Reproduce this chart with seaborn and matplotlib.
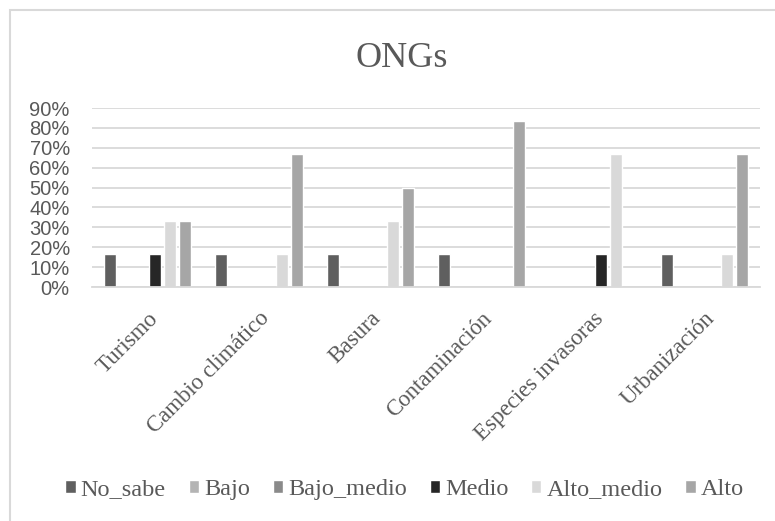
import matplotlib
matplotlib.use("Agg")
import matplotlib.pyplot as plt
import seaborn as sns
import pandas as pd
from matplotlib.patches import Rectangle
from matplotlib.ticker import PercentFormatter, MultipleLocator

categorias = ["Turismo", "Cambio climático", "Basura", "Contaminación",
              "Especies invasoras", "Urbanización"]
niveles = ["No_sabe", "Bajo", "Bajo_medio", "Medio", "Alto_medio", "Alto"]

no_sabe    = [0.1667, 0.1667, 0.1667, 0.1667, 0.0,    0.1667]
bajo       = [0.0,    0.0,    0.0,    0.0,    0.0,    0.0]
bajo_medio = [0.0,    0.0,    0.0,    0.0,    0.0,    0.0]
medio      = [0.1667, 0.0,    0.0,    0.0,    0.1667, 0.0]
alto_medio = [0.3333, 0.1667, 0.3333, 0.0,    0.6667, 0.1667]
alto       = [0.3333, 0.6667, 0.5,    0.8333, 0.0,    0.6667]

colores = ["#5f5f5f", "#b4b4b4", "#8a8a8a", "#262626", "#d9d9d9", "#a6a6a6"]

series = [no_sabe, bajo, bajo_medio, medio, alto_medio, alto]
df = pd.DataFrame(
    [(c, n, v) for n, vals in zip(niveles, series) for c, v in zip(categorias, vals)],
    columns=["categoria", "nivel", "valor"],
)

sns.set_theme(style="white")
serif = ["Liberation Serif", "DejaVu Serif"]
plt.rcParams["font.family"] = serif

fig = plt.figure(figsize=(7.75, 5.21), dpi=100)
ax = fig.add_axes([0.1187, 0.449, 0.862, 0.3437])

sns.barplot(data=df, x="categoria", y="valor", hue="nivel", order=categorias,
            hue_order=niveles, palette=colores, width=0.81, gap=0.2,
            saturation=1, ax=ax, legend=True)

ax.set_ylim(0, 0.9)
ax.yaxis.set_major_locator(MultipleLocator(0.1))
ax.yaxis.set_major_formatter(PercentFormatter(1.0, decimals=0))
ax.set_xlim(-0.5, len(categorias) - 0.5)
ax.grid(axis="y", color="#d9d9d9", linewidth=1.3)
ax.set_axisbelow(True)
for s in ["top", "right", "left"]:
    ax.spines[s].set_visible(False)
ax.spines["bottom"].set_color("#d9d9d9")
ax.spines["bottom"].set_linewidth(1.3)
ax.set_xlabel("")
ax.set_ylabel("")
ax.tick_params(axis="both", length=0)
ax.tick_params(axis="y", pad=16)

for lbl in ax.get_yticklabels():
    lbl.set_fontfamily(["Liberation Sans", "DejaVu Sans"])
    lbl.set_fontsize(14.5)
    lbl.set_color("#595959")

ax.set_xticks(range(len(categorias)))
ax.set_xticklabels(categorias, rotation=45, ha="right", rotation_mode="anchor",
                   fontsize=16.5, color="#595959", family=serif)
ax.tick_params(axis="x", pad=15)

handles, labels = ax.get_legend_handles_labels()
ax.get_legend().remove()
fig.legend(handles, labels, loc="center", bbox_to_anchor=(0.522, 0.06),
           ncol=6, frameon=False, handlelength=0.42, handleheight=0.42,
           handletextpad=0.2, columnspacing=0.95, labelcolor="#595959",
           prop={"family": serif, "size": 17.5})

fig.text(0.518, 0.887, "ONGs", ha="center", va="center", fontsize=26,
         color="#595959", family=serif)

# chart border
fig.patches.append(Rectangle((10 / 775, -0.1), 1.2, 1 - 10 / 521 + 0.1,
                             transform=fig.transFigure, fill=False,
                             edgecolor="#d9d9d9", linewidth=1.5))

fig.savefig("out.png", dpi=100)
